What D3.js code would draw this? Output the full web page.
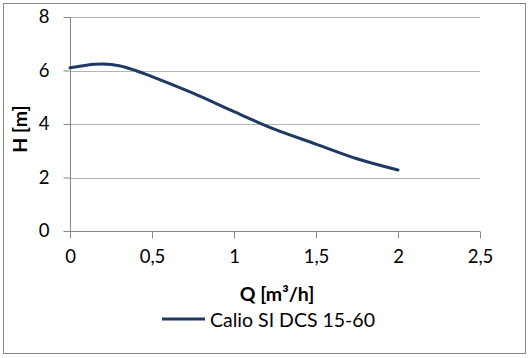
<!DOCTYPE html>
<html><head><meta charset="utf-8">
<script src="https://cdn.jsdelivr.net/npm/d3@7"></script>
<style>body{margin:0;background:#fff}svg{display:block}text{font-family:Lato,"Open Sans",sans-serif;fill:#000}</style>
</head><body><svg id="c" width="532" height="358"></svg>
<script>
const qValues = [0, 0.1, 0.2, 0.3, 0.4, 0.5, 0.75, 1.0, 1.25, 1.5, 1.75, 2.0];
const hValues = [6.10, 6.20, 6.24, 6.18, 6.00, 5.77, 5.15, 4.46, 3.80, 3.25, 2.70, 2.28];
const xTicks = [0, 0.5, 1, 1.5, 2, 2.5];
const yTicks = [0, 2, 4, 6, 8];
const seriesName = "Calio SI DCS 15-60";
const xTitle = "Q [m³/h]";
const yTitle = "H [m]";

const svg = d3.select("#c");
svg.append("rect").attr("x",3.5).attr("y",3.5).attr("width",522).attr("height",350)
  .attr("fill","#fff").attr("stroke","#888").attr("stroke-width",1);

const x = d3.scaleLinear().domain([0,2.5]).range([70,480]);
const y = d3.scaleLinear().domain([0,8]).range([231,17]);
const fmt = d => String(d).replace(".", ",");

// gridlines
svg.append("g").selectAll("line").data(yTicks.filter(d=>d>0)).join("line")
  .attr("x1",x(0)).attr("x2",x(2.5)).attr("y1",d=>Math.round(y(d))+0.5).attr("y2",d=>Math.round(y(d))+0.5)
  .attr("stroke","#b3b3b3").attr("stroke-width",1);

const yAxis = svg.append("g").attr("transform",`translate(${x(0)+0.5},0)`)
  .call(d3.axisLeft(y).tickValues(yTicks).tickSize(7).tickPadding(14).tickFormat(fmt));
const xAxis = svg.append("g").attr("transform",`translate(0,${Math.round(y(0))+0.5})`)
  .call(d3.axisBottom(x).tickValues(xTicks).tickSize(7).tickPadding(11).tickFormat(fmt));
[yAxis,xAxis].forEach(a=>{
  a.selectAll("path,line").attr("stroke","#888");
  a.selectAll("text").style("font-size","18.5px").attr("fill","#000");
});
yAxis.select(".domain").attr("d",`M0,${y(8)}V${y(0)}`);
xAxis.select(".domain").attr("d",`M${x(0)},0H${x(2.5)}`);

// curve
const pts = qValues.map((q,i)=>[q,hValues[i]]);
svg.append("path").datum(pts)
  .attr("d", d3.line().x(d=>x(d[0])).y(d=>y(d[1])).curve(d3.curveCatmullRom.alpha(0.5)))
  .attr("fill","none").attr("stroke","#1f3864").attr("stroke-width",3).attr("stroke-linecap","round");

// titles
svg.append("text").attr("x",277).attr("y",301).attr("text-anchor","middle")
  .style("font-size","19.5px").style("font-weight","bold").text(xTitle);
svg.append("text").attr("transform",`translate(27,129) rotate(-90)`).attr("text-anchor","middle")
  .style("font-size","19.5px").style("font-weight","bold").text(yTitle);

// legend
svg.append("line").attr("x1",162).attr("x2",205).attr("y1",319).attr("y2",319)
  .attr("stroke","#1f3864").attr("stroke-width",3);
svg.append("text").attr("x",210).attr("y",327).style("font-size","19.5px").text(seriesName);
</script></body></html>
